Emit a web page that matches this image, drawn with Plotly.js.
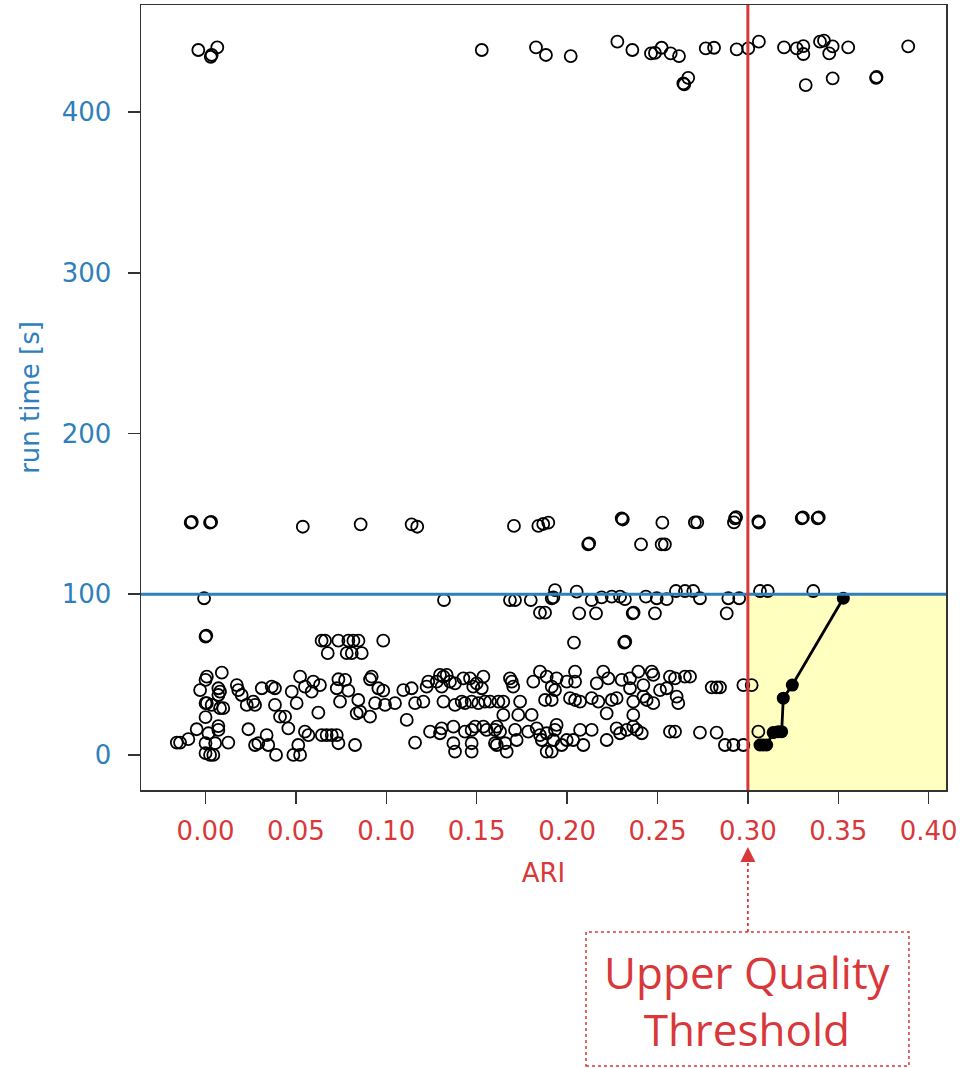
<!DOCTYPE html>
<html>
<head>
<meta charset="utf-8">
<script src="https://cdn.plot.ly/plotly-3.0.1.min.js"></script>
<style>html,body{margin:0;padding:0;background:#fff;}#chart{width:960px;height:1068px;}</style>
</head>
<body>
<div id="chart"></div>
<script>
// ---- Data (ARI vs run time [s]) ----
var runAri = [
-0.004,0.0065,0.0034,0.0029,0.1528,0.1828,0.1883,0.202,0.2278,0.2361,0.2464,0.2486,0.2523,0.2573,0.2619,0.267,0.2648,0.2643,0.2767,0.2813,0.2938,0.3002,0.3061,0.320,0.327,0.3307,0.3307,0.3399,0.3421,0.3469,0.345,0.3555,0.3887,0.332,0.3469,0.3709,0.3712,
-0.0082,-0.0076,0.0025,0.0031,0.0538,0.0858,0.114,0.1171,0.1706,0.1841,0.1868,0.1896,0.2302,0.2308,0.2527,0.2707,0.272,0.2929,0.2923,0.2935,0.3061,0.3058,0.3298,0.3304,0.3386,0.3392,
0.2117,0.2122,0.2409,0.2523,0.2541,
-0.0008,0.1319,0.1684,0.1712,0.1799,0.185,0.1878,0.1915,0.1933,0.1924,0.2053,0.2136,0.2191,0.2247,0.2293,0.232,0.2436,0.2496,0.2551,0.2602,0.2652,0.2698,0.2735,0.2892,0.2952,0.2067,0.216,0.2363,0.2368,0.2486,0.2883,0.3067,0.311,0.3362,
0.0,0.0004,0.0642,0.0661,0.0735,0.079,0.0818,0.0846,0.0676,0.0781,0.0809,0.0864,0.0983,0.2038,0.2316,0.2322,
0.009,0.0007,0.0,-0.003,0.0071,0.008,0.0071,0.0,0.0007,0.0034,0.008,0.0098,0.0,-0.0049,0.0071,0.0071,0.0016,-0.0159,-0.0141,-0.0095,0.0,0.0053,0.0126,0.0,0.0025,0.0043,
0.0173,0.0181,0.02,0.0228,0.0264,0.0274,0.0237,0.0274,0.0292,0.0338,0.0347,0.0311,0.0366,0.0384,0.0384,0.0412,0.044,0.0458,0.039,0.0477,0.0504,0.0523,0.0486,0.0523,0.0513,0.055,0.0569,0.055,0.0596,0.0587,0.0633,0.0624,0.0643,0.067,0.0698,0.0726,0.0735,0.0827,0.0735,0.0772,0.0726,0.079,0.0744,0.0845,0.0836,0.0855,0.091,0.0919,0.091,0.0956,0.0983,0.0938,0.0993,0.1048,0.1094,0.114,0.1159,0.1113,0.1159,
0.1232,0.1223,0.1279,0.1297,0.1316,0.1334,0.1306,0.1352,0.138,0.1205,0.1316,0.138,0.1426,0.1463,0.1481,0.15,0.1528,0.1537,0.1417,0.1435,0.1472,0.1509,0.1546,0.1574,0.162,0.1647,0.1684,0.1694,0.1702,0.1647,0.173,0.1804,0.174,
0.1813,0.185,0.1887,0.1915,0.1933,0.1942,0.1998,0.2044,0.2044,0.1878,0.1915,0.2016,0.2044,0.2072,0.2164,0.22,0.2228,0.2136,0.2173,0.2219,0.2247,0.2274,0.2302,0.2348,0.2394,0.2422,0.2468,0.2477,0.2348,0.2366,0.2422,0.244,0.2477,0.2366,0.2514,0.2551,0.2569,0.2597,0.2606,0.2652,0.268,0.2615,0.28,0.2827,0.2846,0.2975,0.3021,
0.1242,0.1297,0.1306,0.1371,0.1435,0.1472,0.1491,0.1537,0.1555,0.1371,0.138,0.1472,0.1472,0.1601,0.1611,0.1629,0.1601,0.1611,0.1657,0.1666,0.1712,0.1721,0.1785,0.1832,0.185,0.186,0.1887,0.1887,0.1915,0.1933,0.1924,0.1942,0.197,0.1998,0.2034,0.2072,0.209,0.2136,0.2219,0.2274,0.2293,0.233,0.2366,0.2385,0.2413,0.2569,0.2597,0.2735,0.2827,0.2873,0.292,0.2975,0.3058
];
var runTime = [
438.6,440.2,435.5,434.4,438.6,440.2,435.5,434.8,443.8,438.6,436.5,436.8,440,436.5,434.8,421.3,417.2,417.8,439.6,440,439,439.6,443.8,440.2,439.6,441,436.1,443.8,444.4,440.8,436.5,440.2,440.8,416.8,421,421.3,421.8,
144.5,145,144.5,145,142,143.5,143.5,142,142.5,142.5,143.7,144.5,147.2,146.5,144.5,144.7,144.7,147.2,144.7,148,144.5,145.3,147.2,147.8,147.2,147.8,
131,131.6,131,131,131,
97.5,96.4,96.4,96.4,96.4,88.5,88.5,97.5,102.6,98.1,101.6,96.4,98.1,98.5,98.5,96.9,98.5,97.5,96.9,102,102,102,97.5,97.5,97.5,88.1,88.1,88.1,88.6,88.1,88.1,102,102,102,
73.6,74.2,71.1,71.1,71.1,71.1,71.1,71.1,63.3,63.3,63.3,63.3,71.1,69.9,69.9,70.5,
51.2,48.7,46.7,40.4,41.5,39.4,37.3,32.2,32.2,31.1,29.1,29.1,23.5,16,18,15.6,13.5,7.7,7.7,9.8,7.3,7.3,7.7,1.1,0,0,
43.5,40.4,37.3,31.1,33.2,31.1,16,6.2,7.3,12.4,6.2,41.5,42.5,41.5,31.1,23.8,23.8,16.6,0,39.4,32.2,48.7,0,0,6.2,14.5,12.4,42.5,45.6,39.4,43.5,26.3,12.4,12.4,12.4,12.4,7.3,6.2,47.1,46.7,41.5,40,33.2,34.2,25.9,26.9,23.8,48.7,47.1,41.5,40,32.2,31.1,32.2,40.4,41.5,32.2,21.8,7.7,
45.6,42.5,45.6,49.8,48.7,49.8,42.5,45.6,44.6,33.2,33.2,31.1,47.7,47.7,42.5,44.6,41.5,48.7,33.2,32.2,33.2,32.2,33.2,33.2,33.2,33.2,47.7,45.6,42.5,24.9,24.9,24.9,33.2,
45.6,51.8,48.7,42.5,40.4,47.7,45.6,45.6,51.8,34.2,34.2,35.3,34.2,33.2,44.6,51.8,47.7,35.3,33.2,25.9,34.2,35.3,46.7,47.7,51.8,43.5,51.8,49.8,41.5,33.2,36.3,34.2,32.2,24.9,40.4,41.5,48.7,47.7,36.3,48.7,48.7,32.2,42.1,42.1,42.1,43.5,43.5,
14.5,13.5,16.6,17.6,14.5,15.6,17.6,17.6,15.6,7.3,2.1,7.3,2.1,15.6,17.6,14.5,7.3,6.2,7.3,2.1,15.6,9.3,14.5,16.6,12.4,9.3,13.5,2.1,2.1,15.6,9.3,18.7,6.2,9.3,9.3,15.6,6.2,15.6,9.3,16.6,13.5,15.6,17.6,15.6,13.5,14.5,14.5,13.9,13.9,6.2,6.2,6.2,14.5
];
// Pareto-front configurations above the quality threshold
var frontAri  = [0.3067,0.3085,0.3104,0.314,0.3168,0.3187,0.3196,0.3246,0.3528];
var frontTime = [6.2,6.2,6.2,13.9,14.5,14.5,35.3,43.5,97.5];

var xTickVals = [0,0.05,0.10,0.15,0.20,0.25,0.30,0.35,0.40];
var xTickText = ['0.00','0.05','0.10','0.15','0.20','0.25','0.30','0.35','0.40'];
var yTickVals = [0,100,200,300,400];
var yTickText = ['0','100','200','300','400'];
var qualityThreshold = 0.30;
var timeThreshold = 100;

var RED = '#d9383a', BLUE = '#2f7fbd', XR = [-0.0357, 0.4096], YR = [-21.8, 466.6];

var traces = [
  {x: runAri, y: runTime, type: 'scatter', mode: 'markers', hoverinfo: 'x+y',
   marker: {symbol: 'circle-open', size: 12, color: '#000', line: {width: 1.8, color: '#000'}}},
  {x: frontAri, y: frontTime, type: 'scatter', mode: 'lines+markers',
   line: {color: '#000', width: 2.8}, marker: {symbol: 'circle', size: 13, color: '#000'}}
];

var layout = {
  width: 960, height: 1068,
  margin: {l: 141, r: 14, t: 5, b: 278},
  paper_bgcolor: '#fff', plot_bgcolor: '#fff',
  showlegend: false,
  font: {family: 'DejaVu Sans', size: 26, color: '#000'},
  xaxis: {
    range: XR, tickvals: xTickVals, ticktext: xTickText,
    ticks: 'outside', ticklen: 12, tickwidth: 1.5, tickcolor: '#333',
    showline: true, mirror: true, linecolor: '#333', linewidth: 1.5,
    showgrid: false, zeroline: false, ticklabelstandoff: 5,
    tickfont: {family: 'DejaVu Sans', size: 26, color: RED},
    title: {text: 'ARI', font: {family: 'DejaVu Sans', size: 26, color: RED}, standoff: 19}
  },
  yaxis: {
    range: YR, tickvals: yTickVals, ticktext: yTickText,
    ticks: 'outside', ticklen: 12, tickwidth: 1.5, tickcolor: '#333',
    showline: true, mirror: true, linecolor: '#333', linewidth: 1.5,
    showgrid: false, zeroline: false, ticklabelstandoff: 11,
    tickfont: {family: 'DejaVu Sans', size: 26, color: BLUE},
    title: {text: 'run time [s]', font: {family: 'DejaVu Sans', size: 26, color: BLUE}, standoff: 14}
  },
  shapes: [
    {type: 'rect', layer: 'below', xref: 'x', yref: 'y', x0: qualityThreshold, x1: XR[1], y0: YR[0], y1: timeThreshold,
     fillcolor: '#ffffc0', line: {width: 0}},
    {type: 'line', layer: 'above', xref: 'paper', yref: 'y', x0: 0, x1: 1, y0: timeThreshold, y1: timeThreshold,
     line: {color: BLUE, width: 3}},
    {type: 'line', layer: 'above', xref: 'x', yref: 'paper', x0: qualityThreshold, x1: qualityThreshold, y0: 0, y1: 1,
     line: {color: RED, width: 3}},
    {type: 'rect', xref: 'paper', yref: 'paper', x0: 0.5528, x1: 0.954, y0: -0.3516, y1: -0.1809,
     line: {color: RED, width: 1.5, dash: 'dot'}},
    {type: 'line', xref: 'x', yref: 'paper', x0: qualityThreshold, x1: qualityThreshold, y0: -0.1809, y1: -0.085,
     line: {color: RED, width: 1.8, dash: 'dot'}}
  ],
  annotations: [
    {xref: 'x', yref: 'paper', x: qualityThreshold, y: -0.0726, text: '', showarrow: true,
     ax: 0, ay: 16, arrowhead: 2, arrowsize: 2, arrowwidth: 1.5, arrowcolor: RED, standoff: 0},
    {xref: 'paper', yref: 'paper', x: 0.754, y: -0.2685, xanchor: 'center', yanchor: 'middle',
     text: 'Upper Quality<br>Threshold', showarrow: false,
     font: {family: 'Open Sans', size: 44, color: RED}}
  ]
};

Plotly.newPlot('chart', traces, layout, {staticPlot: true, displayModeBar: false});
</script>
</body>
</html>
